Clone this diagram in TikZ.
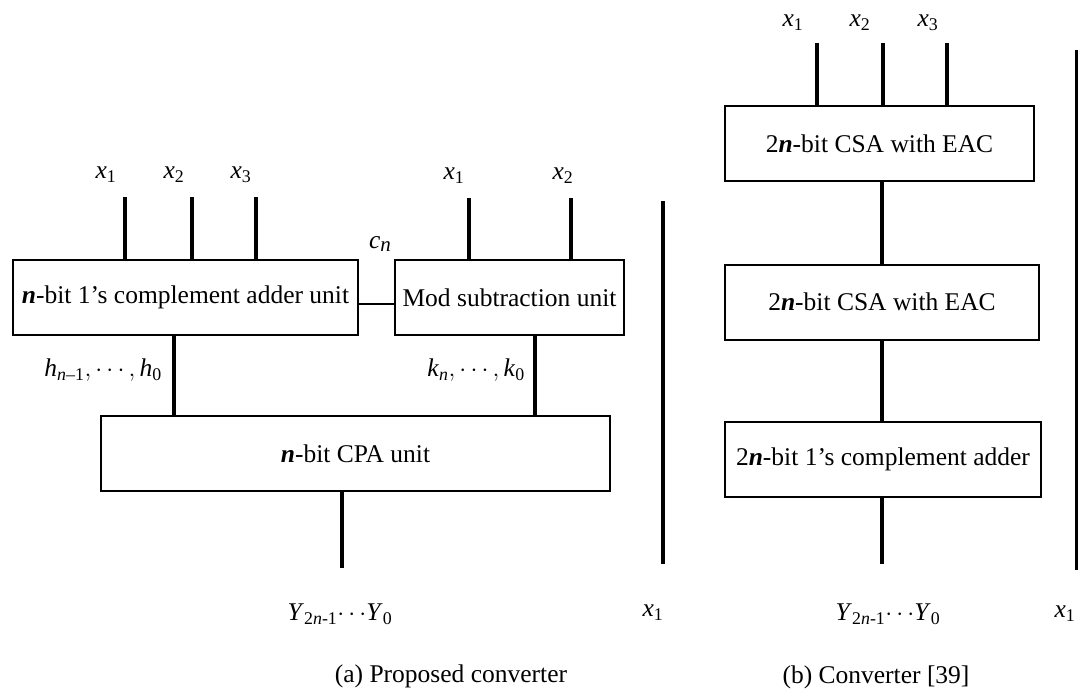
\documentclass[tikz,border=0pt]{standalone}
\usepackage{fontspec}
\setmainfont{Liberation Serif}
\newcommand\vi[1]{\textit{#1}}
\newcommand\nb{\textit{\textbf{n}}}
\begin{document}
\begin{tikzpicture}[x=1pt,y=-1pt,
  every node/.style={font=\fontsize{25.5}{30}\selectfont},
  unit/.style={draw,line width=2pt,inner sep=0pt,minimum height=75pt},
  bus/.style={line width=4.5pt},
  wire/.style={line width=1.6pt},
  lbl/.style={inner sep=0pt}]
\useasboundingbox (0,0) rectangle (1078,696);

% ---- (a) proposed converter ----
\node[unit,minimum width=345pt] (add) at (185.5,297.5) {\nb-bit 1’s complement adder unit};
\node[unit,minimum width=229pt] (sub) at (509.5,297.5) {Mod subtraction unit};
\node[unit,minimum width=509pt] (cpa) at (355.5,453.5) {\nb-bit CPA unit};

\coordinate (a1) at (125,197);
\coordinate (a2) at (192,197);
\coordinate (a3) at (256,197);
\coordinate (b1) at (469,198);
\coordinate (b2) at (571,198);
\coordinate (hx) at (174,0);
\coordinate (kx) at (535,0);
\coordinate (yout) at (342,568);

\node[lbl] (la1) at (106,175) {\vi{x}\textsubscript{1}};
\node[lbl] (la2) at (174,175) {\vi{x}\textsubscript{2}};
\node[lbl] (la3) at (241,175) {\vi{x}\textsubscript{3}};
\node[lbl] (lb1) at (454,176) {\vi{x}\textsubscript{1}};
\node[lbl] (lb2) at (563,176) {\vi{x}\textsubscript{2}};

\draw[bus] (a1) -- (a1 |- add.north);
\draw[bus] (a2) -- (a2 |- add.north);
\draw[bus] (a3) -- (a3 |- add.north);
\draw[bus] (b1) -- (b1 |- sub.north);
\draw[bus] (b2) -- (b2 |- sub.north);

\draw[wire] (add.east |- 0,304) -- (sub.west |- 0,304);
\node[lbl] (cn) at (380,244) {\vi{c}\raisebox{-0.2ex}{\fontsize{21}{24}\selectfont\vi{n}}};

\draw[bus] (hx |- add.south) -- (hx |- cpa.north);
\draw[bus] (kx |- sub.south) -- (kx |- cpa.north);
\node[lbl,anchor=east] (hl) at (162,370) {\vi{h}\textsubscript{\vi{n}–1}$,\cdots,$\,\vi{h}\textsubscript{0}};
\node[lbl,anchor=east] (kl) at (525,370) {\vi{k}\textsubscript{\vi{n}}$,\cdots,$\,\vi{k}\textsubscript{0}};

\draw[bus] (cpa.south -| yout) -- (yout);
\node[lbl] (ya) at (340,614) {\vi{Y}\textsubscript{2\vi{n}-1}$\cdots$\vi{Y}\textsubscript{0}};

\coordinate (sa1) at (663,201);
\coordinate (sa2) at (663,564);
\draw[bus] (sa1) -- (sa2);
\node[lbl] (xa) at (653,613) {\vi{x}\textsubscript{1}};

\node[lbl] (capa) at (451,676) {(a) Proposed converter};

% ---- (b) reference converter ----
\node[unit,minimum width=309pt] (csa1) at (879.5,143.5) {2\nb-bit CSA with EAC};
\node[unit,minimum width=314pt] (csa2) at (882,302) {2\nb-bit CSA with EAC};
\node[unit,minimum width=316pt] (oca) at (883,459) {2\nb-bit 1’s complement adder};

\coordinate (c1) at (817,43);
\coordinate (c2) at (883,43);
\coordinate (c3) at (947,43);
\node[lbl] (lc1) at (793,23) {\vi{x}\textsubscript{1}};
\node[lbl] (lc2) at (860,23) {\vi{x}\textsubscript{2}};
\node[lbl] (lc3) at (928,23) {\vi{x}\textsubscript{3}};
\draw[bus] (c1) -- (c1 |- csa1.north);
\draw[bus] (c2) -- (c2 |- csa1.north);
\draw[bus] (c3) -- (c3 |- csa1.north);

\coordinate (vx) at (882,0);
\draw[bus] (vx |- csa1.south) -- (vx |- csa2.north);
\draw[bus] (vx |- csa2.south) -- (vx |- oca.north);
\coordinate (ybout) at (882,564);
\draw[bus] (vx |- oca.south) -- (ybout);
\node[lbl] (yb) at (888,614) {\vi{Y}\textsubscript{2\vi{n}-1}$\cdots$\vi{Y}\textsubscript{0}};

\coordinate (sb1) at (1077,50);
\coordinate (sb2) at (1077,570);
\draw[bus] (sb1) -- (sb2);
\node[lbl] (xb) at (1065,614) {\vi{x}\textsubscript{1}};

\node[lbl] (capb) at (876,677) {(b) Converter [39]};
\end{tikzpicture}
\end{document}
